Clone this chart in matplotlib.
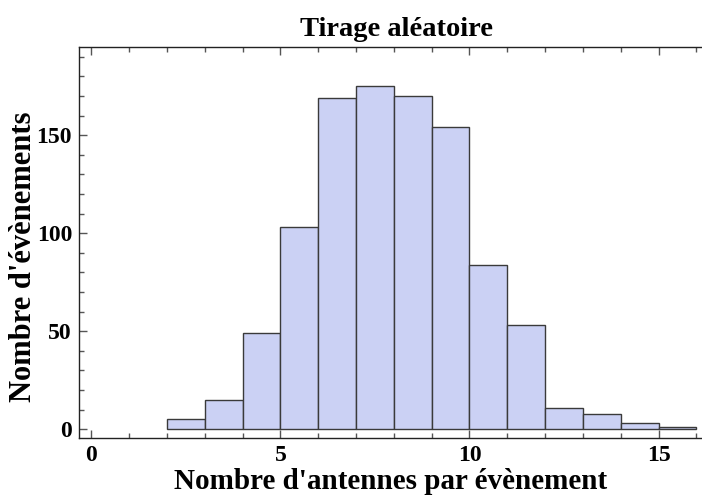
import matplotlib
matplotlib.use("Agg")
from matplotlib import pyplot as plt
from matplotlib.ticker import MultipleLocator
import numpy as np

# Bin edges (number of antennas) and counts
bin_left = [2, 3, 4, 5, 6, 7, 8, 9, 10, 11, 12, 13, 14, 15]
counts = [5, 15, 49, 103, 169, 175, 170, 154, 84, 53, 11, 8, 3, 1]
bin_width = 1

title = "Tirage aléatoire"
xlabel = "Nombre d'antennes par évènement"
ylabel = "Nombre d'évènements"

plt.rcParams['font.family'] = ['Liberation Serif', 'DejaVu Serif']
plt.rcParams['font.weight'] = 'bold'

fig = plt.figure(figsize=(7.02, 4.97), dpi=100)
ax = fig.add_axes([0.1125, 0.1193, 0.8875, 0.7861])

ax.bar(bin_left, counts, width=bin_width, align='edge',
       color='#cbd1f4', edgecolor='#3a3a3a', linewidth=1.0)

ax.set_xlim(-0.33, 16.15)
ax.set_ylim(-4.3, 195)

ax.xaxis.set_major_locator(MultipleLocator(5))
ax.xaxis.set_minor_locator(MultipleLocator(1))
ax.yaxis.set_major_locator(MultipleLocator(50))
ax.yaxis.set_minor_locator(MultipleLocator(10))
ax.tick_params(which='both', direction='in', top=True, right=False,
               color='#555555', labelsize=17, width=1)
ax.tick_params(which='major', length=6, pad=5)
ax.tick_params(which='minor', length=3.5)
for lab in ax.get_xticklabels() + ax.get_yticklabels():
    lab.set_fontweight('bold')

ax.spines['right'].set_visible(False)
for s in ['left', 'bottom', 'top']:
    ax.spines[s].set_linewidth(1.0)
    ax.spines[s].set_color('#222222')

ax.set_title(title, fontsize=20.5, fontweight='bold', pad=8, x=0.51)
ax.set_xlabel(xlabel, fontsize=21, fontweight='bold', labelpad=2)
ax.set_ylabel(ylabel, fontsize=22, fontweight='bold')
ax.yaxis.set_label_coords(-0.066, 0.4625)

plt.savefig('out.png', dpi=100)
